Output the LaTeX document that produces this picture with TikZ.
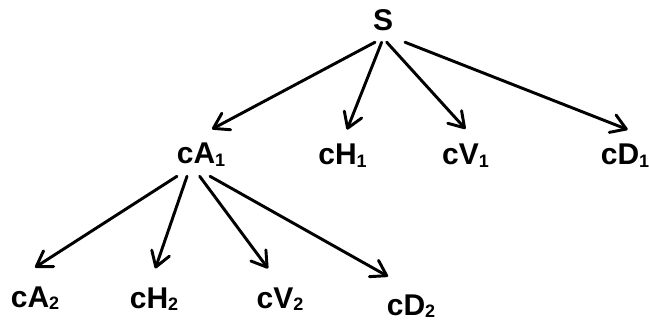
\documentclass[tikz,border=0pt]{standalone}
\usepackage{fontspec}
\setmainfont{Liberation Sans}
\usetikzlibrary{arrows.meta}

\newcommand{\idx}[1]{\raisebox{-2pt}{\fontsize{13.5}{13.5}\selectfont\bfseries #1}}

\tikzset{
    coef/.style={font=\fontsize{22.5}{26}\selectfont\bfseries, inner sep=8pt, anchor=base},
    branch/.style={line width=2.2pt, line cap=round, -{Straight Barb[length=11pt, width=14pt, line cap=round, line join=round]}}
}

\begin{document}
\begin{tikzpicture}[x=0.75pt, y=-0.75pt]
    \useasboundingbox (0, 0) rectangle (649, 320);

    \node[coef] (S) at (383, 31) {S};

    \node[coef] (cA1) at (201, 164) {cA\idx{1}};
    \node[coef] (cH1) at (342.5, 164.5) {cH\idx{1}};
    \node[coef] (cV1) at (465.5, 164.5) {cV\idx{1}};
    \node[coef] (cD1) at (625, 164.5) {cD\idx{1}};

    \node[coef] (cA2) at (35, 307) {cA\idx{2}};
    \node[coef] (cH2) at (154, 308) {cH\idx{2}};
    \node[coef] (cV2) at (280, 308) {cV\idx{2}};
    \node[coef] (cD2) at (411, 315) {cD\idx{2}};

    \draw[branch] ([xshift=-6pt]S.south) -- ([shift={(8.25pt, 2.5pt)}]cA1.north);
    \draw[branch] ([xshift=-1pt]S.south) -- ([shift={(3.4pt, 2.5pt)}]cH1.north);
    \draw[branch] ([xshift=2.8pt]S.south) -- ([yshift=3pt]cV1.north);
    \draw[branch] ([xshift=16.5pt]S.south) -- ([shift={(2pt, 2.5pt)}]cD1.north);

    \draw[branch] ([shift={(-18pt, 1pt)}]cA1.south) -- ([yshift=6pt]cA2.north);
    \draw[branch] ([shift={(-10.5pt, 1pt)}]cA1.south) -- ([shift={(1pt, 6pt)}]cH2.north);
    \draw[branch] ([shift={(-1pt, 1pt)}]cA1.south) -- ([shift={(-9pt, 6pt)}]cV2.north);
    \draw[branch] ([shift={(6.75pt, 1pt)}]cA1.south) -- ([shift={(-17.25pt, 5.25pt)}]cD2.north);

\end{tikzpicture}
\end{document}
